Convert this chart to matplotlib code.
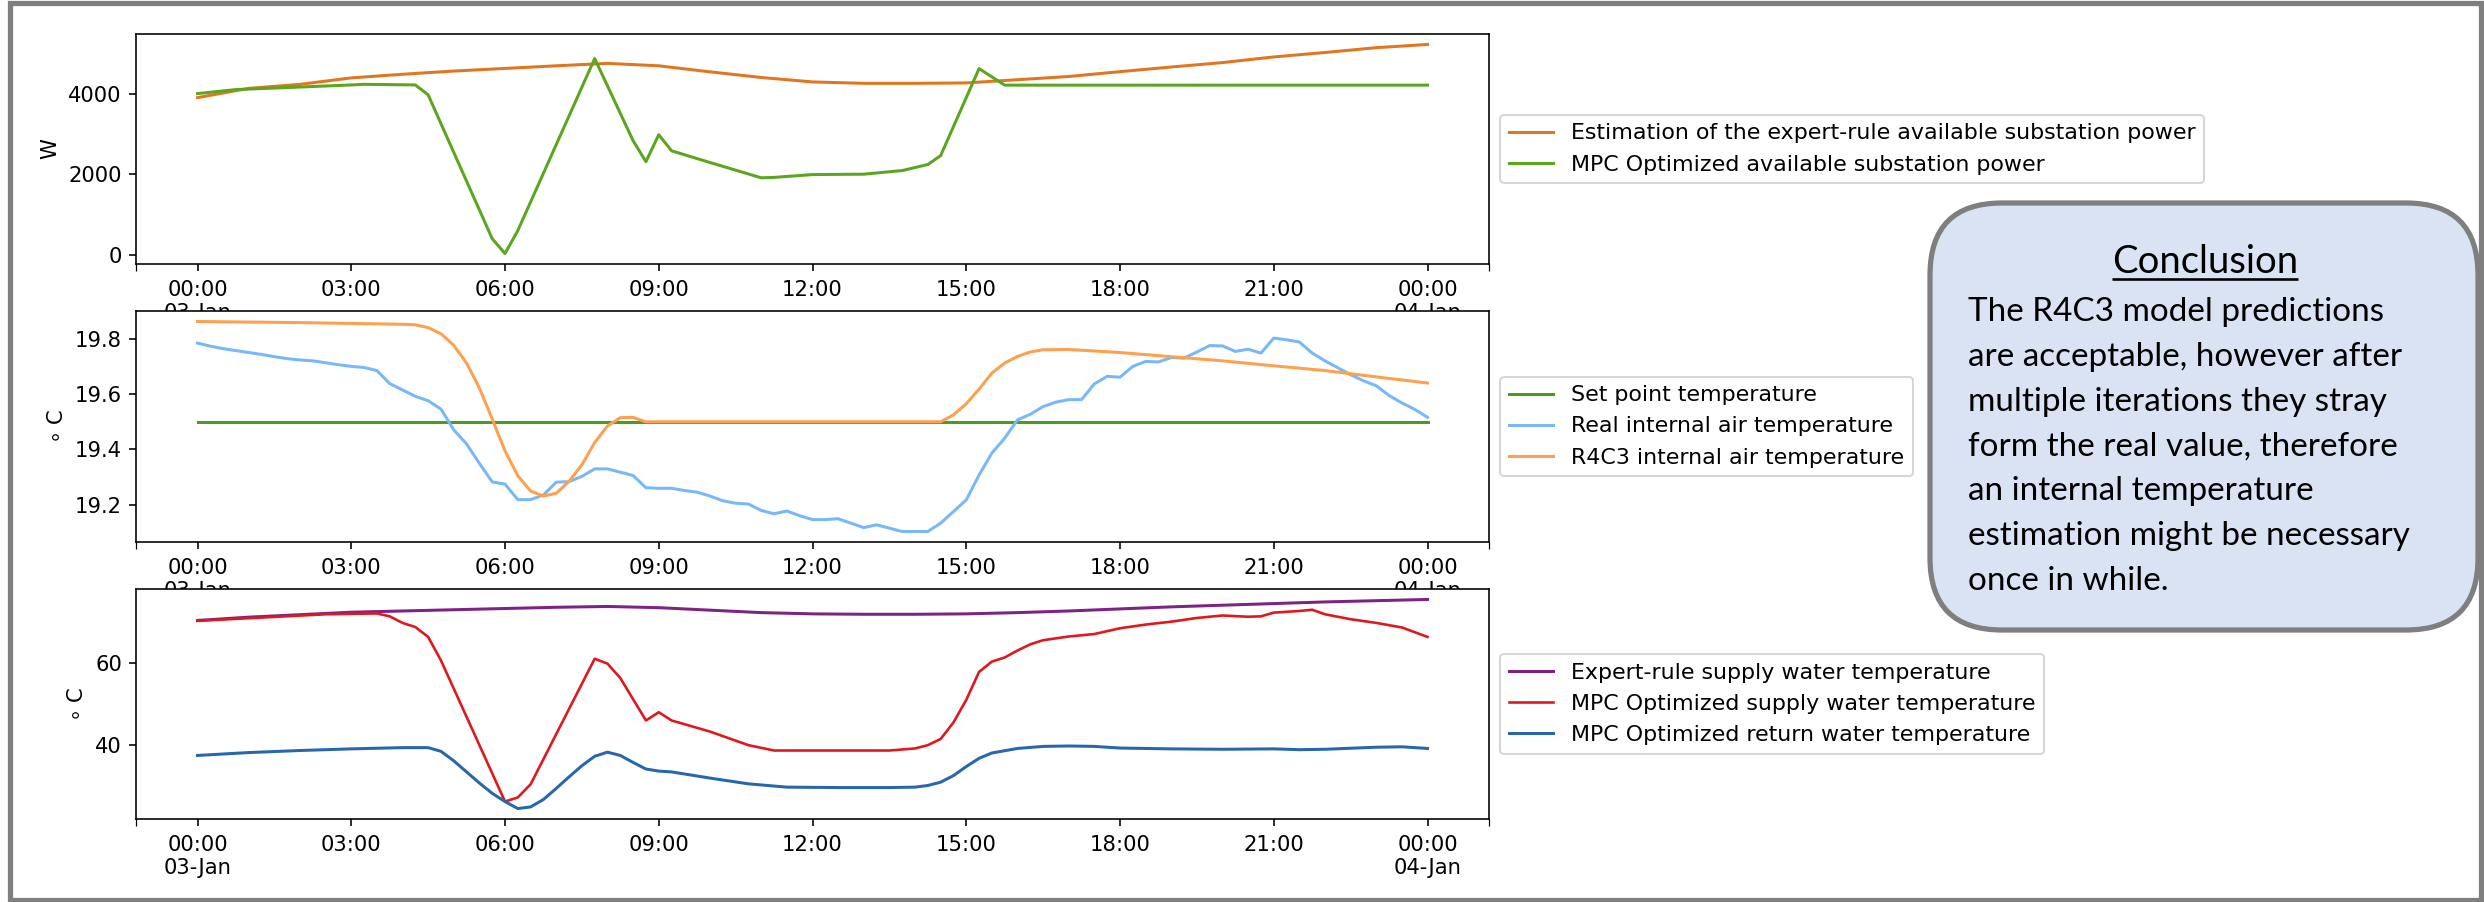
import numpy as np
import matplotlib
matplotlib.use("Agg")
import matplotlib.pyplot as plt
import matplotlib.dates as mdates
from matplotlib.patches import FancyBboxPatch, Rectangle
from matplotlib.ticker import FuncFormatter

# %% data (hours after 03-Jan 00:00)
day0 = np.datetime64("2019-01-03T00:00")

expert_power_h = [0, 1, 2, 3, 4, 5, 6, 7, 8, 9, 10, 11, 12, 13, 14, 15, 16, 17, 18,
                  19, 20, 21, 22, 23, 24]
expert_power = [3900, 4130, 4230, 4390, 4480, 4560, 4625, 4690, 4750, 4690, 4540, 4400,
                4290, 4255, 4255, 4265, 4345, 4425, 4545, 4660, 4770, 4910, 5020, 5140, 5220]

mpc_power_h = [0, 0.75, 1.75, 3.0, 3.25, 4.25, 4.5, 5.75, 6.0, 6.25, 7.75, 8.5, 8.75, 9.0,
               9.25, 10.0, 10.5, 11.0, 11.25, 12.0, 13.0, 13.75, 14.25, 14.5, 15.25, 15.75, 24]
mpc_power = [4000, 4100, 4150, 4215, 4230, 4215, 3970, 400, 30, 600, 4870, 2830, 2310, 2980,
             2580, 2290, 2100, 1910, 1920, 1990, 2000, 2090, 2240, 2460, 4620, 4210, 4210]

setpoint_h = [0, 24]
setpoint = [19.5, 19.5]

real_temp_h = np.arange(0, 24.25, 0.25)
real_temp = [19.784, 19.773, 19.764, 19.757, 19.750, 19.743, 19.735, 19.728, 19.723, 19.720,
             19.713, 19.706, 19.700, 19.696, 19.685, 19.638, 19.615, 19.592, 19.576, 19.546,
             19.471, 19.420, 19.350, 19.283, 19.275, 19.219, 19.219, 19.236, 19.282, 19.284,
             19.303, 19.330, 19.330, 19.318, 19.306, 19.262, 19.260, 19.260, 19.252, 19.246,
             19.232, 19.215, 19.206, 19.203, 19.180, 19.168, 19.178, 19.161, 19.147, 19.147,
             19.150, 19.134, 19.118, 19.128, 19.116, 19.104, 19.104, 19.104, 19.134, 19.176,
             19.218, 19.308, 19.387, 19.441, 19.507, 19.527, 19.555, 19.571, 19.580, 19.580,
             19.637, 19.664, 19.661, 19.700, 19.718, 19.716, 19.732, 19.730, 19.752, 19.775,
             19.774, 19.754, 19.762, 19.748, 19.802, 19.796, 19.788, 19.748, 19.720, 19.695,
             19.670, 19.648, 19.630, 19.595, 19.568, 19.545, 19.516]

r4c3_h = [0, 2, 4, 4.25, 4.5, 4.75, 5.0, 5.25, 5.5, 5.75, 6.0, 6.25, 6.5, 6.75, 7.0, 7.25,
          7.5, 7.75, 8.0, 8.25, 8.5, 8.75, 14.5, 14.75, 15.0, 15.25, 15.5, 15.75, 16.0,
          16.25, 16.5, 17, 18, 19, 20, 21, 22, 23, 24]
r4c3_temp = [19.862, 19.858, 19.852, 19.850, 19.840, 19.818, 19.776, 19.712, 19.622, 19.510,
             19.395, 19.305, 19.250, 19.232, 19.242, 19.285, 19.345, 19.425, 19.485, 19.515,
             19.516, 19.500, 19.500, 19.525, 19.565, 19.618, 19.676, 19.712, 19.736, 19.752,
             19.760, 19.761, 19.750, 19.735, 19.720, 19.702, 19.685, 19.662, 19.640]

expert_supply_h = [0, 1, 2, 3, 4, 5, 6, 7, 8, 9, 10, 11, 12, 13, 14, 15, 16, 17, 18,
                   19, 20, 21, 22, 23, 24]
expert_supply = [70.3, 71.1, 71.7, 72.3, 72.6, 72.9, 73.2, 73.5, 73.7, 73.4, 72.8, 72.2,
                 71.9, 71.8, 71.8, 71.9, 72.2, 72.6, 73.1, 73.6, 74.0, 74.4, 74.8, 75.1, 75.4]

mpc_supply_h = [0, 1.25, 2.5, 3.5, 3.75, 4.0, 4.25, 4.5, 4.75, 6.0, 6.25, 6.5, 7.75, 8.0,
                8.25, 8.75, 9.0, 9.25, 10.0, 10.75, 11.25, 12.5, 13.5, 14.0, 14.25, 14.5,
                14.75, 15.0, 15.25, 15.5, 15.75, 16.0, 16.25, 16.5, 17.0, 17.5, 18.0, 18.5,
                19.0, 19.5, 20.0, 20.5, 20.75, 21.0, 21.5, 21.75, 22.0, 22.5, 23.0, 23.5, 24]
mpc_supply = [70.2, 71.0, 71.8, 72.0, 71.3, 69.7, 68.7, 66.3, 60.6, 26.3, 27.3, 30.5, 61.0,
              59.8, 56.3, 46.0, 48.0, 46.0, 43.3, 40.0, 38.7, 38.7, 38.7, 39.2, 40.0, 41.5,
              45.5, 51.0, 57.8, 60.3, 61.3, 63.0, 64.5, 65.5, 66.4, 67.0, 68.4, 69.3, 70.0,
              70.9, 71.5, 71.2, 71.3, 72.2, 72.6, 72.9, 71.8, 70.6, 69.7, 68.6, 66.3]

mpc_return_h = [0, 1, 2, 3, 4, 4.5, 4.75, 5.0, 5.25, 5.5, 5.75, 6.0, 6.25, 6.5, 6.75, 7.0,
                7.25, 7.5, 7.75, 8.0, 8.25, 8.5, 8.75, 9.0, 9.25, 10.0, 10.75, 11.5, 12.5,
                13.5, 14.0, 14.25, 14.5, 14.75, 15.0, 15.25, 15.5, 16.0, 16.5, 17.0, 17.5,
                18.0, 19.0, 20.0, 21.0, 21.5, 22.0, 23.0, 23.5, 24]
mpc_return = [37.5, 38.2, 38.7, 39.1, 39.4, 39.4, 38.5, 36.2, 33.5, 30.8, 28.3, 26.3, 24.6,
              25.0, 26.8, 29.5, 32.3, 35.0, 37.3, 38.3, 37.5, 35.8, 34.2, 33.7, 33.5, 32.0,
              30.6, 29.8, 29.7, 29.7, 29.8, 30.2, 31.0, 32.6, 34.8, 36.8, 38.1, 39.2, 39.7,
              39.8, 39.7, 39.3, 39.1, 39.0, 39.1, 38.9, 39.0, 39.5, 39.6, 39.2]

conclusion_lines = ["The R4C3 model predictions",
                    "are acceptable, however after",
                    "multiple iterations they stray",
                    "form the real value, therefore",
                    "an internal temperature",
                    "estimation might be necessary",
                    "once in while."]


def to_time(hours):
    return day0 + (np.asarray(hours, dtype=float) * 60).round().astype(int).astype("timedelta64[m]")


def fmt_time(x, pos=None):
    d = mdates.num2date(x)
    if d.hour == 0:
        return d.strftime("%H:%M\n%d-%b")
    return d.strftime("%H:%M")


# %% figure
W, H, DPI = 2484, 902, 145
plt.rcParams["xtick.labelsize"] = 10.5
plt.rcParams["ytick.labelsize"] = 10.5
plt.rcParams["axes.labelsize"] = 10.5
plt.rcParams["legend.fontsize"] = 11
fig = plt.figure(figsize=(W / DPI, H / DPI), dpi=DPI)

def add_ax(top, bottom):
    return fig.add_axes([136 / W, 1 - bottom / H, 1353 / W, (bottom - top) / H])

ax1 = add_ax(34, 264)
ax1.plot(to_time(expert_power_h), expert_power, color="#e0771f",
         label="Estimation of the expert-rule available substation power")
ax1.plot(to_time(mpc_power_h), mpc_power, color="#5ba61e",
         label="MPC Optimized available substation power")
ax1.set_ylabel("W")
ax1.set_yticks([0, 2000, 4000])

ax2 = add_ax(311, 542)
ax2.plot(to_time(setpoint_h), setpoint, color="#4a9c1c", label="Set point temperature")
ax2.plot(to_time(real_temp_h), real_temp, color="#78b8f8", label="Real internal air temperature")
ax2.plot(to_time(r4c3_h), r4c3_temp, color="#ffa04e", label="R4C3 internal air temperature")
ax2.set_ylabel("$\\circ$ C")
ax2.set_yticks([19.2, 19.4, 19.6, 19.8])

ax3 = add_ax(589, 819)
ax3.plot(to_time(expert_supply_h), expert_supply, color="#7d2384",
         label="Expert-rule supply water temperature")
ax3.plot(to_time(mpc_supply_h), mpc_supply, color="#e0181e", lw=1.3,
         label="MPC Optimized supply water temperature")
ax3.plot(to_time(mpc_return_h), mpc_return, color="#2767ad",
         label="MPC Optimized return water temperature")
ax3.set_ylabel("$\\circ$ C")
ax3.set_yticks([40, 60])

for ax in (ax1, ax2, ax3):
    ax.xaxis.set_major_locator(mdates.HourLocator(byhour=range(0, 24, 3)))
    ax.xaxis.set_major_formatter(FuncFormatter(fmt_time))
    xl = ax.get_xlim()
    ax.set_xlim(xl)
    ax.set_xticks(xl, minor=True)
    ax.tick_params(axis="x", which="minor", length=3.5)
    ax.tick_params(axis="x", which="major", pad=4.5)
    ax.legend(loc="center left", bbox_to_anchor=(1, 0.5))

# %% slide decorations in pixel coordinates
ov = fig.add_axes([0, 0, 1, 1])
ov.set_xlim(0, W)
ov.set_ylim(H, 0)
ov.axis("off")

ov.add_patch(Rectangle((9.5, 3.5), 2471.5, 896.5, fill=False, ec="#7f7f7f", lw=2.6,
                       clip_on=False))
ov.add_patch(FancyBboxPatch((1930, 203), 548, 427,
                            boxstyle="round,pad=0,rounding_size=72",
                            fc="#dae3f3", ec="#7f7f7f", lw=2.6, clip_on=False))

title = ov.text(2205, 273, "Conclusion", ha="center", va="baseline",
                fontsize=19, family="Lato")
for i, line in enumerate(conclusion_lines):
    ov.text(1968, 321 + i * 44.8, line, ha="left", va="baseline",
            fontsize=16.5, family="Lato")

fig.canvas.draw()
bb = title.get_window_extent().transformed(ov.transData.inverted())
ov.plot([bb.x0, bb.x1], [279, 279], color="black", lw=1.3, solid_capstyle="butt")

plt.savefig("out.png", dpi=DPI)
